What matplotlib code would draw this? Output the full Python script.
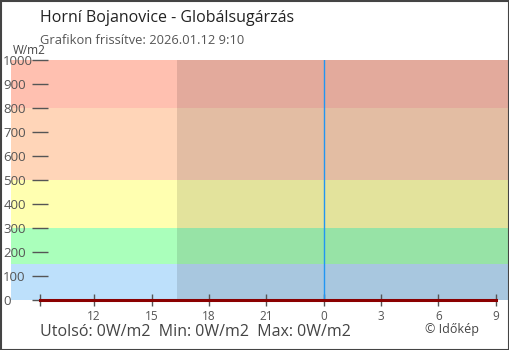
import numpy as np
import matplotlib.pyplot as plt
from matplotlib.patches import Rectangle

plt.rcParams['font.family'] = ['Open Sans', 'DejaVu Sans']

# data (hours since yesterday 00:00)
times = [9 + 10/60, 12, 15, 18, 21, 24, 27, 30, 33]
values = [0, 0, 0, 0, 0, 0, 0, 0, 0]
tick_pos = [9 + 10/60, 12, 15, 18, 21, 24, 27, 30, 33]
tick_labels = ['', '12', '15', '18', '21', '0', '3', '6', '9']
band_edges = [0, 150, 300, 500, 800, 1000]
band_colors = ['#bde0fb', '#aaffbb', '#ffffb0', '#ffd5b8', '#ffc0b0']
sunset = 16.33
midnight = 24
title = 'Horní Bojanovice - Globálsugárzás'
subtitle = 'Grafikon frissítve: 2026.01.12 9:10'
footer = 'Utolsó: 0W/m2  Min: 0W/m2  Max: 0W/m2'

W, H = 510, 350
fig = plt.figure(figsize=(W/100, H/100), dpi=100)
ax = fig.add_axes([11/W, 1 - 300/H, 498/W, 240/H])

px_per_h = 19.12
x0 = times[0] - 29/px_per_h
x1 = x0 + 498/px_per_h
ax.set_xlim(x0, x1)
ax.set_ylim(0, 1000)

for i in range(len(band_colors)):
    ax.axhspan(band_edges[i], band_edges[i+1], color=band_colors[i], lw=0, zorder=0)
ax.axvspan(sunset, x1, color='black', alpha=0.11, lw=0, zorder=1)
ax.axvline(midnight, color='#2196f3', lw=1, zorder=2)

ax.plot(times, values, color='#8b0000', lw=2.2, zorder=3, clip_on=False)

for s in ['top', 'right', 'bottom']:
    ax.spines[s].set_visible(False)
ax.spines['left'].set_position(('data', times[0]))
ax.spines['left'].set_visible(False)

ax.set_yticks(range(0, 1001, 100))
ax.set_xticks(tick_pos)
ax.set_xticklabels(tick_labels)
ax.tick_params(axis='y', direction='inout', length=12, width=1, colors='#555555',
               labelsize=9.5, pad=20.5)
ax.tick_params(axis='x', direction='inout', length=8, width=1, colors='#555555',
               labelsize=8.5, pad=3)
for lbl in ax.get_yticklabels():
    lbl.set_color('#555555')
    lbl.set_horizontalalignment('left')

fig.text(40/W, 1 - 18/H, title, fontsize=11.5, color='#222222', va='center', ha='left')
fig.text(40/W, 1 - 40/H, subtitle, fontsize=9.3, color='#555555', va='center', ha='left')
fig.text(13/W, 1 - 51/H, 'W/m2', fontsize=8.5, color='#444444', va='center', ha='left')
fig.text(40/W, 1 - 332/H, footer, fontsize=11.5, color='#444444', va='center', ha='left')
fig.text(425/W, 1 - 330/H, '© Időkép', fontsize=9, color='#444444', va='center', ha='left')

fig.patches.append(Rectangle((0.5/W, 0.5/H), 1 - 1.5/W, 1 - 1.5/H, transform=fig.transFigure,
                             fill=False, edgecolor='#444444', lw=1.5))

fig.savefig('out.png', dpi=100)
